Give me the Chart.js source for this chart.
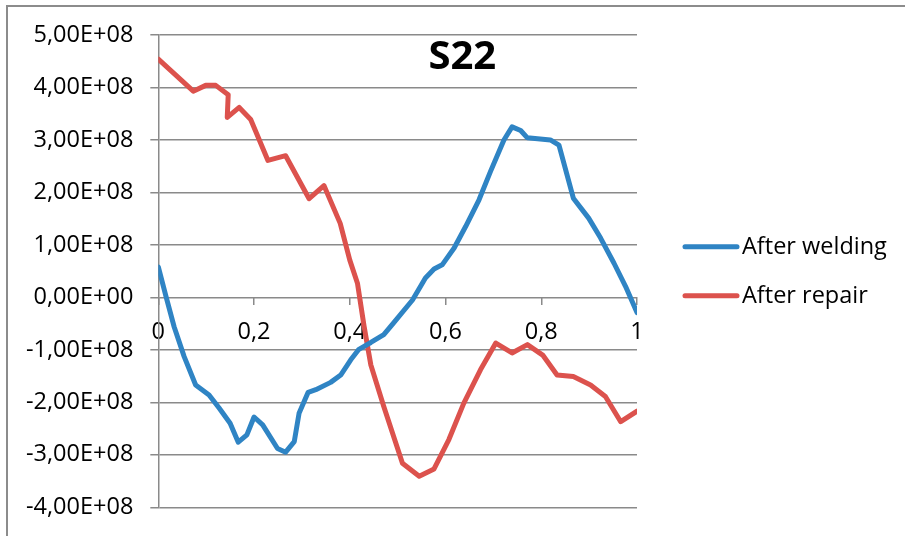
<!DOCTYPE html>
<html>
<head>
<meta charset="utf-8">
<title>S22</title>
<script src="https://cdn.jsdelivr.net/npm/chart.js@4.4.1/dist/chart.umd.min.js"></script>
<style>
  html, body { margin: 0; padding: 0; background: #fff; }
  #wrap { position: relative; width: 905px; height: 536px; overflow: hidden; }
  #frame { position: absolute; left: 6px; top: 5px; right: -10px; bottom: -10px;
           border-top: 2px solid #8c8c8c; border-left: 2px solid #8c8c8c; }
  #c { position: absolute; left: 0; top: 0; }
</style>
</head>
<body>
<div id="wrap">
  <div id="frame"></div>
  <canvas id="c" width="905" height="536"></canvas>
</div>
<script>
/* S22 stress along the path, before and after repair */

const TITLE = "S22";
const SERIES_NAMES = ["After welding", "After repair"];

const weldX = [0, 0.016, 0.033, 0.054, 0.078, 0.106, 0.127, 0.15, 0.167, 0.185, 0.2, 0.218, 0.249, 0.266,
  0.284, 0.294, 0.313, 0.329, 0.36, 0.381, 0.402, 0.419, 0.444, 0.471, 0.492, 0.531, 0.558, 0.576,
  0.593, 0.618, 0.642, 0.67, 0.694, 0.722, 0.739, 0.757, 0.771, 0.819, 0.837, 0.867, 0.899, 0.924,
  0.952, 0.976, 1.0];
const weldY = [0.58, 0.02, -0.56, -1.13, -1.67, -1.86, -2.11, -2.40, -2.76, -2.62, -2.28, -2.43, -2.88, -2.95,
  -2.75, -2.21, -1.81, -1.76, -1.62, -1.48, -1.19, -0.99, -0.86, -0.71, -0.48, -0.05, 0.37, 0.54,
  0.62, 0.94, 1.35, 1.86, 2.40, 3.00, 3.25, 3.18, 3.04, 3.00, 2.90, 1.89, 1.51, 1.13,
  0.65, 0.21, -0.29];

const repairX = [0, 0.073, 0.099, 0.12, 0.146, 0.144, 0.169, 0.193, 0.229, 0.266, 0.315, 0.346, 0.38,
  0.40, 0.416, 0.43, 0.444, 0.471, 0.51, 0.545, 0.576, 0.607, 0.638, 0.673, 0.705, 0.739, 0.771,
  0.803, 0.833, 0.867, 0.903, 0.934, 0.966, 1.0];
const repairY = [4.54, 3.93, 4.04, 4.04, 3.86, 3.43, 3.62, 3.39, 2.61, 2.70, 1.88, 2.13, 1.41,
  0.71, 0.27, -0.56, -1.29, -2.08, -3.16, -3.41, -3.27, -2.71, -2.02, -1.38, -0.87, -1.06, -0.90,
  -1.10, -1.48, -1.51, -1.67, -1.89, -2.37, -2.17];

// values above are in units of 1e8
const SCALE = 1e8;
const yTicks = [5, 4, 3, 2, 1, 0, -1, -2, -3, -4];
const xTicks = [0, 0.2, 0.4, 0.6, 0.8, 1];

const FONT = "'Open Sans', 'Noto Sans', sans-serif";
const FS = 23.5;
const GRID = "#8a8a8a";

function pts(xs, ys) {
  return xs.map((x, i) => ({ x, y: ys[i] * SCALE }));
}

function sci(v) {
  if (v === 0) return "0,00E+00";
  const e = Math.floor(Math.log10(Math.abs(v)) + 1e-9);
  const m = v / Math.pow(10, e);
  const ee = (e < 0 ? "-" : "+") + String(Math.abs(e)).padStart(2, "0");
  return m.toFixed(2).replace(".", ",") + "E" + ee;
}

// title inside the plot, legend to the right of it
const decor = {
  id: "decor",
  afterDraw(chart) {
    const { ctx, chartArea: a } = chart;
    ctx.save();
    ctx.font = "bold 40px " + FONT;
    ctx.fillStyle = "#000";
    ctx.textAlign = "center";
    ctx.textBaseline = "middle";
    ctx.fillText(TITLE, a.left + (a.right - a.left) * 0.635, 58);

    const mid = (a.top + a.bottom) / 2;
    ctx.font = FS + "px " + FONT;
    ctx.textAlign = "left";
    chart.data.datasets.forEach((ds, i) => {
      const y = mid + (i - 0.5) * 49;
      const x0 = a.right + 48;
      ctx.strokeStyle = ds.borderColor;
      ctx.lineWidth = 5;
      ctx.lineCap = "round";
      ctx.beginPath();
      ctx.moveTo(x0, y);
      ctx.lineTo(x0 + 52, y);
      ctx.stroke();
      ctx.fillStyle = "#000";
      ctx.fillText(ds.label, x0 + 57, y + 1);
    });
    ctx.restore();
  },
};

new Chart(document.getElementById("c"), {
  type: "line",
  data: {
    datasets: [
      { label: SERIES_NAMES[0], data: pts(weldX, weldY), borderColor: "#2f84c4", backgroundColor: "#2f84c4",
        borderWidth: 5, pointRadius: 0, tension: 0, borderJoinStyle: "round", borderCapStyle: "round" },
      { label: SERIES_NAMES[1], data: pts(repairX, repairY), borderColor: "#dc524d", backgroundColor: "#dc524d",
        borderWidth: 5, pointRadius: 0, tension: 0, borderJoinStyle: "round", borderCapStyle: "round" },
    ],
  },
  options: {
    responsive: false,
    animation: false,
    events: [],
    layout: { padding: { top: 35, bottom: 28, left: 9, right: 268 } },
    plugins: {
      title: { display: false },
      tooltip: { enabled: false },
      legend: { display: false },
    },
    scales: {
      x: {
        type: "linear",
        position: { y: 0 },
        min: 0, max: 1,
        afterBuildTicks: (s) => { s.ticks = xTicks.map((v) => ({ value: v })); },
        ticks: { color: "#000", font: { family: FONT, size: FS }, padding: 13,
                 callback: (v) => String(v).replace(".", ",") },
        grid: { drawOnChartArea: false, drawTicks: true, tickLength: 8, color: GRID, lineWidth: 1.5 },
        border: { display: false },
      },
      y: {
        min: -4 * SCALE, max: 5 * SCALE,
        afterBuildTicks: (s) => { s.ticks = yTicks.map((v) => ({ value: v * SCALE })); },
        ticks: { color: "#000", font: { family: FONT, size: FS, lineHeight: 1 }, padding: 17,
                 callback: (v) => sci(v) },
        grid: { color: GRID, lineWidth: 1.5, tickLength: 8 },
        border: { color: GRID, width: 1.5 },
      },
    },
  },
  plugins: [decor],
});
</script>
</body>
</html>
